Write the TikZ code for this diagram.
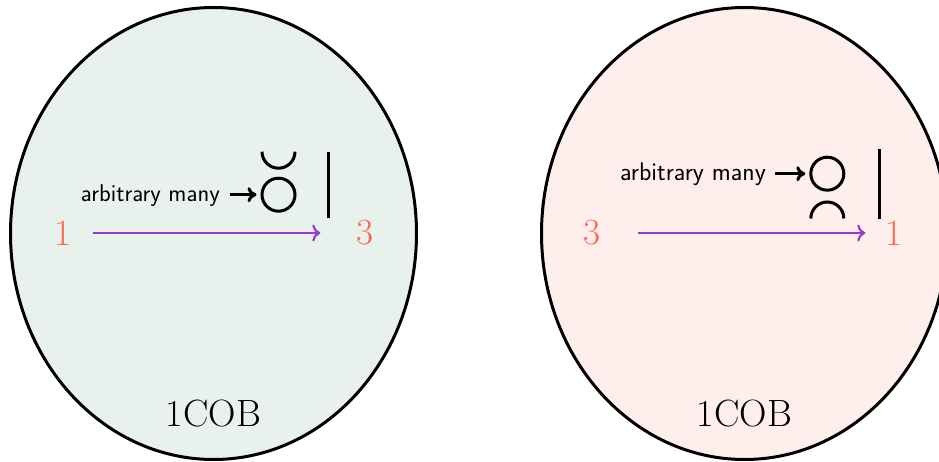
\documentclass[tikz,border=0pt]{standalone}
\usetikzlibrary{arrows.meta}
\definecolor{bgL}{RGB}{232,241,236}
\definecolor{bgR}{RGB}{254,239,237}
\definecolor{labc}{RGB}{250,104,80}
\definecolor{vio}{RGB}{150,60,205}
\begin{document}
\begin{tikzpicture}[x=1pt,y=-1pt,
  ell/.style={line width=3pt},
  num/.style={text=labc, font=\fontsize{37}{40}\selectfont, inner sep=0pt},
  cob/.style={font=\fontsize{38}{40}\selectfont, inner sep=0pt},
  many/.style={font=\sffamily\fontsize{24.3}{27}\selectfont, inner sep=0pt, anchor=base east},
  manybig/.style={many, font=\sffamily\fontsize{25.5}{28}\selectfont},
  mor/.style={vio, line width=2.2pt, -{To[length=8pt,width=17pt]}},
  ptr/.style={black, line width=3pt, -{To[length=9pt,width=15pt]}},
  strand/.style={line width=3pt},
  loopc/.style={circle, draw, line width=3pt, minimum size=33pt, inner sep=0pt}]
\useasboundingbox (0,0) rectangle (939,462);
% left panel
\draw[ell, fill=bgL] (213.5,233.5) ellipse [x radius=203, y radius=226];
\node[num] (a1) at (63,233) {1};
\node[num] (a3) at (365,233) {3};
\draw[mor, shorten <=21pt, shorten >=36pt] (a1) -- (a3);
\node[many] (m1) at (220,201.5) {arbitrary many};
\node[loopc] (c1) at (278.5,194.7) {};
\draw[ptr, shorten <=10pt, shorten >=4pt] (m1.east |- c1) -- (c1.west);
\draw[strand] (262,151.7) arc[start angle=180, end angle=0, radius=16.5];
\draw[strand] (328,151.7) -- (328,218);
\node[cob] (t1) at (213.5,414) {1COB};
% right panel
\draw[ell, fill=bgR] (744.5,233.5) ellipse [x radius=203, y radius=226];
\node[num] (b3) at (592,233) {3};
\node[num] (b1) at (894,233) {1};
\draw[mor, shorten <=37pt, shorten >=20pt] (b3) -- (b1);
\node[manybig] (m2) at (766,181) {arbitrary many};
\node[loopc] (c2) at (827.3,173.7) {};
\draw[ptr, shorten <=9pt, shorten >=4pt] (m2.east |- c2) -- (c2.west);
\draw[strand] (810.8,218.5) arc[start angle=180, end angle=360, radius=16.5];
\draw[strand] (879,149.3) -- (879,219);
\node[cob] (t2) at (744.5,414) {1COB};
\end{tikzpicture}
\end{document}
